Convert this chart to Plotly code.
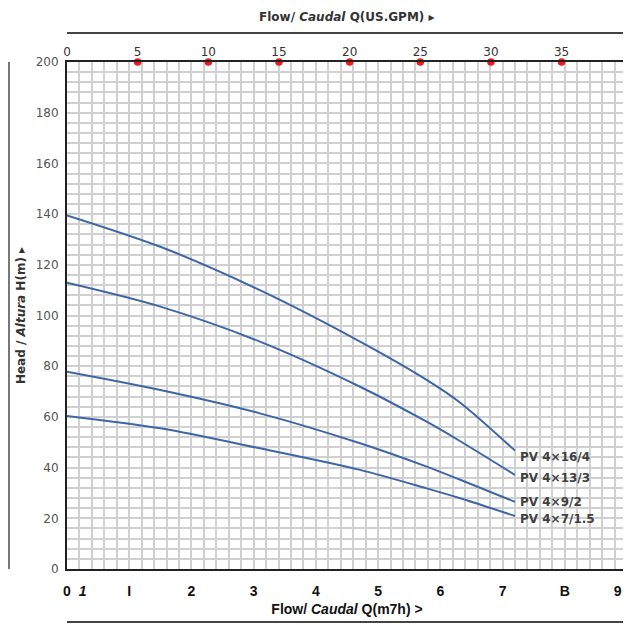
import plotly.graph_objects as go

# ---- data (flow in m3/h, head in m) ----
flow_pts = [0.0, 1.5, 3.1, 4.71, 5.78, 6.32, 7.2]
head_16_4 = [139.5, 127.1, 110.0, 89.7, 74.6, 65.6, 46.7]
head_13_3 = [112.9, 103.5, 89.7, 71.9, 58.1, 50.4, 37.1]
head_9_2 = [77.8, 70.6, 61.4, 49.6, 40.4, 35.2, 26.5]
head_7_15 = [60.4, 55.5, 47.6, 39.1, 31.8, 27.9, 20.9]

series_names = ["PV 4×16/4", "PV 4×13/3", "PV 4×9/2", "PV 4×7/1.5"]
series_heads = [head_16_4, head_13_3, head_9_2, head_7_15]

bottom_tickvals = [0, 0.25, 1, 2, 3, 4, 5, 6, 7, 8, 8.85]
bottom_ticktext = ["0", "<i>1</i>", "I", "2", "3", "4", "5", "6", "7", "B", "9"]
gpm_ticks = [0, 5, 10, 15, 20, 25, 30, 35]
gpm_marked = [5, 10, 15, 20, 25, 30, 35]
head_ticks = [0, 20, 40, 60, 80, 100, 120, 140, 160, 180, 200]
GPM_PER_M3H = 4.4029
Q_MAX = 9

# ---- style ----
curve_color = "#3d66a8"
grid_color = "#d0d0d0"
label_yshift = [-6, -3, 0, -3]

fig = go.Figure()
for name, heads in zip(series_names, series_heads):
    fig.add_trace(go.Scatter(x=flow_pts, y=heads, mode="lines", name=name,
                             line=dict(color=curve_color, width=2, shape="spline", smoothing=0.85),
                             showlegend=False, hoverinfo="skip"))

fig.add_trace(go.Scatter(x=gpm_marked, y=[200] * len(gpm_marked), xaxis="x2", yaxis="y",
                         mode="markers", marker=dict(color="#f01818", size=7.5),
                         cliponaxis=False, showlegend=False, hoverinfo="skip"))

for name, heads, ys in zip(series_names, series_heads, label_yshift):
    fig.add_annotation(x=flow_pts[-1], y=heads[-1], text=name, showarrow=False,
                       xanchor="left", yanchor="middle", xshift=3, yshift=ys,
                       font=dict(family="DejaVu Sans", size=12, color="#404040", weight="bold"))

fig.update_layout(
    width=623, height=617,
    margin=dict(l=59, r=4, t=54, b=56, autoexpand=False),
    paper_bgcolor="white", plot_bgcolor="white",
    xaxis=dict(range=[0, Q_MAX], tickmode="array", tickvals=bottom_tickvals, ticktext=bottom_ticktext,
               showgrid=False, zeroline=False, showline=True, mirror=True, linecolor="#222",
               linewidth=2, ticks="", ticklabelstandoff=8, automargin=False,
               ticklabeloverflow="allow",
               tickfont=dict(family="Liberation Sans", size=14, color="#111", weight="bold"),
               minor=dict(tickmode="linear", tick0=0, dtick=0.2, showgrid=True,
                          gridcolor=grid_color, gridwidth=1.5),
               title=dict(text="Flow/ <i>Caudal</i> Q(m7h) >", standoff=6,
                          font=dict(family="Liberation Sans", size=14, color="#111", weight="bold"))),
    xaxis2=dict(range=[0, Q_MAX * GPM_PER_M3H], overlaying="x", side="top", tickmode="array",
                tickvals=gpm_ticks, showgrid=False, zeroline=False, showline=False, ticks="",
                ticklabelstandoff=3, automargin=False,
                tickfont=dict(family="DejaVu Sans", size=12, color="#333")),
    yaxis=dict(range=[0, 200], tickmode="array", tickvals=head_ticks, showgrid=True,
               gridcolor=grid_color, gridwidth=1.5, zeroline=False, showline=True, mirror=True,
               linecolor="#222", linewidth=2, ticks="", ticklabelstandoff=4, automargin=False,
               tickfont=dict(family="DejaVu Sans", size=12, color="#555"),
               minor=dict(tickmode="linear", tick0=0, dtick=4, showgrid=True,
                          gridcolor=grid_color, gridwidth=1.5),
               title=dict(text="Head / <i>Altura</i> H(m) ▸", standoff=7,
                          font=dict(family="DejaVu Sans", size=12, color="#333", weight="bold"))),
)

# top title and decorative rules
fig.add_annotation(xref="paper", yref="paper", x=0.5, y=1, yshift=45, yanchor="middle",
                   text="Flow/ <i>Caudal</i> Q(US.GPM) ▸", showarrow=False,
                   font=dict(family="DejaVu Sans", size=12, color="#333", weight="bold"))
fig.add_shape(type="line", xref="paper", yref="paper", x0=0, x1=1, y0=1.057, y1=1.057,
              line=dict(color="#444", width=2))
fig.add_shape(type="line", xref="paper", yref="paper", x0=0, x1=1, y0=-0.1045, y1=-0.1045,
              line=dict(color="#444", width=2))
fig.add_shape(type="line", xref="paper", yref="paper", x0=-0.1036, x1=-0.1036, y0=0.0, y1=1.0,
              line=dict(color="#777", width=2))

fig.write_html("out.html")
